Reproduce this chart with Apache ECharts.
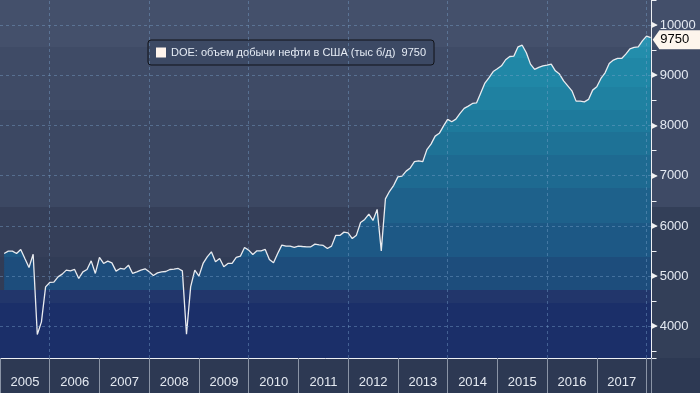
<!DOCTYPE html>
<html><head><meta charset="utf-8">
<script src="https://cdn.jsdelivr.net/npm/echarts@6/dist/echarts.min.js"></script>
<style>html,body{margin:0;padding:0;background:#2c3852}#c{width:700px;height:393px}</style>
</head><body><div id="c"></div>
<script>
// ---- data ----
const seriesName = 'DOE: объем добычи нефти в США (тыс б/д)';
const firstMonth = '2005-01';           // first monthly observation
const production = [
5452,5498,5498,5452,5532,5352,5173,5438,3839,4090,4787,4875,
4880,4986,5040,5120,5106,5133,4954,5086,5133,5305,5054,5372,
5253,5299,5265,5100,5153,5140,5219,5054,5086,5120,5146,5086,
5014,5066,5086,5093,5133,5140,5153,5106,3845,4787,5120,5000,
5253,5385,5485,5286,5352,5186,5253,5253,5372,5398,5571,5518,
5432,5505,5505,5532,5333,5265,5452,5618,5598,5598,5571,5598,
5591,5585,5585,5638,5624,5611,5551,5598,5811,5811,5877,5864,
5748,5817,6070,6130,6235,6110,6330,5504,6540,6690,6810,6978,
6992,7092,7155,7280,7297,7280,7520,7630,7789,7845,7988,8122,
8074,8128,8241,8341,8387,8440,8452,8650,8845,8955,9075,9130,
9190,9310,9375,9383,9568,9600,9450,9223,9118,9157,9190,9203,
9223,9090,9024,8890,8791,8691,8486,8486,8472,8520,8705,8771,
8938,9050,9237,9303,9336,9336,9422,9528,9556,9568,9687,9781,
9750
];
const yearAxisMin = 2005, yearAxisMax = 2018.1;
const valueAxisMin = 3370, valueAxisMax = 10500;
const gridYears = [2006, 2008, 2010, 2012, 2014, 2016, 2018];
const gridValues = [4000, 5000, 6000, 7000, 8000, 9000, 10000];

// ---- build ----
const months = [];
{
  let y = +firstMonth.slice(0,4), m = +firstMonth.slice(5,7);
  for (let i = 0; i < production.length; i++) {
    months.push(y + '-' + String(m).padStart(2,'0'));
    m++; if (m > 12) { m = 1; y++; }
  }
}
// position each monthly value at the end of its month
const points = months.map((s, i) => [ +s.slice(0,4) + (+s.slice(5,7)) / 12, production[i] ]);
const last = points[points.length - 1];

const FONT = "'Liberation Sans',Arial,sans-serif";
function bands(edges, colors) {
  const stops = [];
  for (let i = 0; i < colors.length; i++) {
    stops.push({offset: edges[i], color: colors[i]});
    stops.push({offset: edges[i+1], color: colors[i]});
  }
  return stops;
}
const H = 358;
const areaEdges = [0,47,58,87,110,132,155,188,223,257,290,303,H].map(v => v / H);
const areaColors = ['#2993b1','#238dab','#2087a6','#1f81a1','#1e7a9c','#1e7296','#1e6a91','#1e618b','#1d5885','#1d4d7c','#22366b','#1b2f69'];
const bgEdges = [0,47,110,207,257,290,303,H].map(v => v / H);
const bgColors = ['#44506b','#3f4b66','#3c4863','#353f59','#313c56','#22366b','#1b2f69'];
const gridLineStyle = {color: 'rgba(125,165,205,0.42)', type: [3,3], width: 1};

const chart = echarts.init(document.getElementById('c'), null, {renderer: 'canvas'});
chart.setOption({
  animation: false,
  backgroundColor: {type:'linear', x:0, y:0, x2:0, y2:1, colorStops: bands(
    [0, 47/393, 207/393, 358/393, 1], ['#434f6a','#3e4a65','#333f58','#2d3953'])},
  grid: {left: -3.6, right: 48.5, top: 0, bottom: 35, show: true, borderWidth: 0,
    backgroundColor: {type:'linear', x:0, y:0, x2:0, y2:1, colorStops: bands(bgEdges, bgColors)}},
  legend: {
    left: 148, top: 40, padding: [7, 8, 7, 8],
    backgroundColor: '#3c4964', borderColor: '#111318', borderWidth: 1, borderRadius: 3,
    itemWidth: 10, itemHeight: 10, itemGap: 5,
    data: [{name: seriesName, icon: 'rect', itemStyle: {color: '#fff4ec'}}],
    formatter: n => n + '  ' + last[1],
    textStyle: {color: '#e6ecf5', fontSize: 11, fontFamily: FONT}
  },
  xAxis: {
    type: 'value', min: yearAxisMin, max: yearAxisMax, interval: 1, z: 4,
    axisLine: {show: true, lineStyle: {color: '#eef0f4', width: 1}},
    axisTick: {show: true, length: 35, lineStyle: {color: '#8a94a6', width: 1}},
    splitLine: {show: false},
    axisLabel: {color: '#e4e9f1', fontSize: 13, fontFamily: FONT, margin: 18,
      align: 'center', padding: [0,0,0,50],
      formatter: v => (v < 2018 ? String(v) : '')}
  },
  yAxis: {
    type: 'value', position: 'right', min: valueAxisMin, max: valueAxisMax, splitNumber: 14, z: 4,
    axisLine: {show: true, lineStyle: {color: '#eef0f4', width: 1}},
    axisTick: {show: true, length: 5, lineStyle: {color: '#eef0f4'}},
    splitLine: {show: false},
    axisLabel: {margin: 0,
      formatter: v => (v % 1000 === 0 ? '{t|▶}{v|' + v + '}' : ''),
      rich: {
        t: {fontFamily: 'DejaVu Sans', fontSize: 8, color: '#f2f2f2', padding: [0, 2, 0, 0]},
        v: {fontFamily: FONT, fontSize: 13, color: '#e4e9f1'}
      }}
  },
  series: [{
    name: seriesName, type: 'line', data: points, showSymbol: false, symbol: 'none',
    lineStyle: {color: '#e9ebef', width: 1.3},
    itemStyle: {color: '#fff4ec'},
    areaStyle: {origin: 'start', opacity: 1,
      color: {type:'linear', x:0, y:0, x2:0, y2:H, global: true, colorStops: bands(areaEdges, areaColors)}},
    markLine: {silent: true, symbol: ['none','none'], label: {show: false},
      lineStyle: gridLineStyle,
      data: gridYears.map(y => ({xAxis: y})).concat(gridValues.map(v => ({yAxis: v})))},
    markPoint: {
      symbol: 'path://M0,50L14,0L100,0L100,100L14,100Z',
      symbolSize: [48, 19], symbolOffset: [26, 2],
      itemStyle: {color: '#fdf5ec'},
      label: {show: true, position: 'inside', color: '#000', fontSize: 13, fontFamily: FONT,
        offset: [-2, 0], formatter: p => String(p.value)},
      data: [{coord: last, value: last[1]}]
    }
  }]
});
</script></body></html>
